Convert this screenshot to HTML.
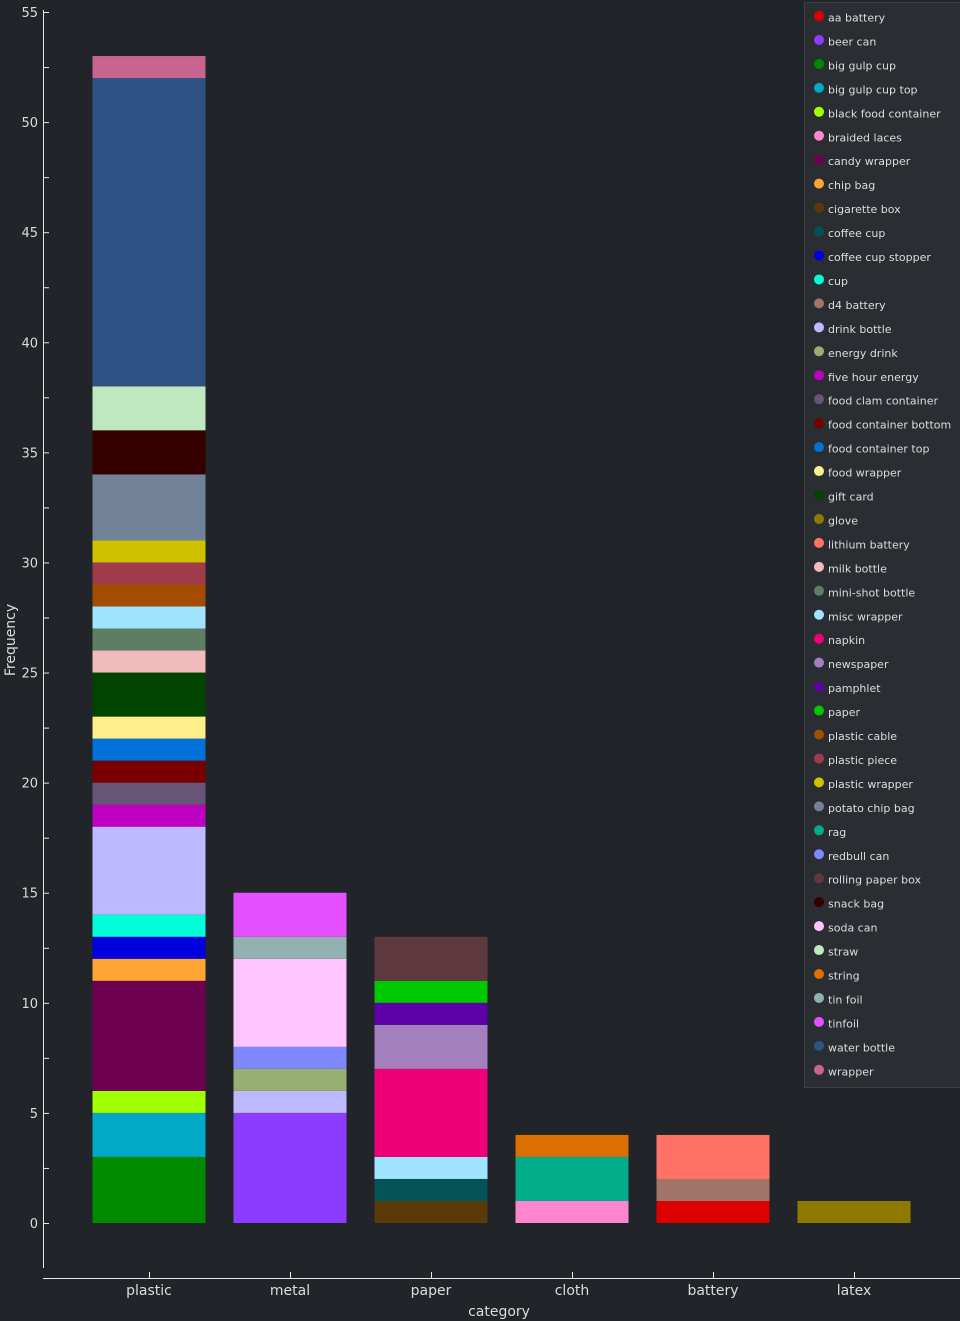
<!DOCTYPE html>
<html><head><meta charset="utf-8"><style>
body{margin:0;background:#212428;}
svg{display:block;font-family:"DejaVu Sans","Liberation Sans",sans-serif;}
</style></head><body>
<svg id="c" width="960" height="1321"></svg>
<script>
const categories=["plastic","metal","paper","cloth","battery","latex"];
const items=["aa battery","beer can","big gulp cup","big gulp cup top","black food container","braided laces","candy wrapper","chip bag","cigarette box","coffee cup","coffee cup stopper","cup","d4 battery","drink bottle","energy drink","five hour energy","food clam container","food container bottom","food container top","food wrapper","gift card","glove","lithium battery","milk bottle","mini-shot bottle","misc wrapper","napkin","newspaper","pamphlet","paper","plastic cable","plastic piece","plastic wrapper","potato chip bag","rag","redbull can","rolling paper box","snack bag","soda can","straw","string","tin foil","tinfoil","water bottle","wrapper"];
const colors=["#dd0000","#8c3bff","#008a00","#00a9c8","#a0ff00","#ff85d0","#6e0050","#ffa533","#5c3a07","#035356","#0000dd","#00ffd8","#a07466","#bdb8ff","#97b072","#c000c0","#665577","#780000","#0072d8","#ffef8a","#004400","#8e7a00","#ff7266","#f0bbbb","#5d7d65","#a0e4ff","#ee0077","#a47fbd","#5c00a8","#00c800","#a44d00","#a03a4d","#cfc300","#718299","#00ac8a","#8088ff","#5e393f","#350000","#ffc4ff","#c0e8c0","#dd6e00","#93b1b0","#e450ff","#2e5284","#c86490"];
const plasticItems=["big gulp cup","big gulp cup top","black food container","candy wrapper","chip bag","coffee cup stopper","cup","drink bottle","five hour energy","food clam container","food container bottom","food container top","food wrapper","gift card","milk bottle","mini-shot bottle","misc wrapper","plastic cable","plastic piece","plastic wrapper","potato chip bag","snack bag","straw","water bottle","wrapper"];
const plasticCounts=[3,2,1,5,1,1,1,4,1,1,1,1,1,2,1,1,1,1,1,1,3,2,2,14,1];
const metalItems=["beer can","drink bottle","energy drink","redbull can","soda can","tin foil","tinfoil"];
const metalCounts=[5,1,1,1,4,1,2];
const paperItems=["cigarette box","coffee cup","misc wrapper","napkin","newspaper","pamphlet","paper","rolling paper box"];
const paperCounts=[1,1,1,4,2,1,1,2];
const clothItems=["braided laces","rag","string"];
const clothCounts=[1,2,1];
const batteryItems=["aa battery","d4 battery","lithium battery"];
const batteryCounts=[1,1,2];
const latexItems=["glove"];
const latexCounts=[1];
const yTicks=[0,5,10,15,20,25,30,35,40,45,50,55];

const stacks=[[plasticItems,plasticCounts],[metalItems,metalCounts],[paperItems,paperCounts],[clothItems,clothCounts],[batteryItems,batteryCounts],[latexItems,latexCounts]];
const svg=document.getElementById('c');
const NS="http://www.w3.org/2000/svg";
function mk(t,a,p){const e=document.createElementNS(NS,t);for(const k in a)e.setAttribute(k,a[k]);(p||svg).appendChild(e);return e;}
const y0=1223,y55=12;
const y=v=>y0-(y0-y55)*v/55;
const x=i=>149+141*i;
const bw=113;
const bars=mk('g',{});


stacks.forEach((s,ci)=>{
  let acc=0;
  s[0].forEach((name,j)=>{
    const v=s[1][j];
    const r=mk('rect',{x:x(ci)-bw/2,y:y(acc+v),width:bw,height:y(acc)-y(acc+v),fill:colors[items.indexOf(name)]},bars);
    
    
    acc+=v;
  });
});
const ya=mk('g',{stroke:'#e8e8e8','stroke-width':1});


mk('line',{x1:43.5,y1:10,x2:43.5,y2:1268},ya);
for(let v=-2.5;v<=55;v+=2.5){mk('line',{x1:43,y1:y(v)+.5,x2:49,y2:y(v)+.5},ya);}
yTicks.forEach(v=>{const t=mk('text',{x:38,y:y(v)+5,'text-anchor':'end',fill:'#dcdcdc','font-size':13,stroke:'none'});t.textContent=v;
});
const yt=mk('text',{x:0,y:0,transform:'translate(15,640) rotate(-90)','text-anchor':'middle',fill:'#dcdcdc','font-size':14});
yt.textContent='Frequency';


const xa=mk('g',{stroke:'#e8e8e8'});


mk('line',{x1:43,y1:1278.5,x2:960,y2:1278.5},xa);
categories.forEach((c,i)=>{mk('line',{x1:x(i)+.5,y1:1272,x2:x(i)+.5,y2:1278},xa);
const t=mk('text',{x:x(i),y:1295,'text-anchor':'middle',fill:'#dcdcdc','font-size':14,stroke:'none'});t.textContent=c;
});
const xt=mk('text',{x:499,y:1316,'text-anchor':'middle',fill:'#dcdcdc','font-size':14});
xt.textContent='category';


const lg=mk('g',{});


mk('rect',{x:804.5,y:2.5,width:160,height:1085,fill:'#2a2e33',stroke:'#3c4046'},lg);
items.forEach((n,i)=>{
  const g=mk('g',{},lg);
  
  
  mk('circle',{cx:819,cy:16+23.95*i,r:5,fill:colors[i]},g);
  const t=mk('text',{x:828,y:21.5+23.95*i,fill:'#dcdcdc','font-size':11},g);t.textContent=n;
});
</script>
</body></html>
